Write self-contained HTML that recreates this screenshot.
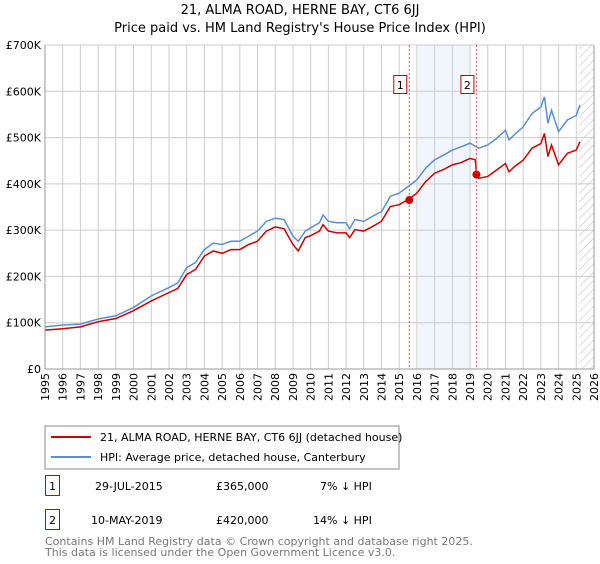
<!DOCTYPE html>
<html><head><meta charset="utf-8">
<style>
body{margin:0;background:#fff;font-family:"DejaVu Sans","Liberation Sans",sans-serif;}
svg text{font-family:"DejaVu Sans","Liberation Sans",sans-serif;}
</style></head>
<body>
<svg id="c" width="600" height="560" xmlns="http://www.w3.org/2000/svg">
<defs><pattern id="hatch" width="6" height="6" patternUnits="userSpaceOnUse" patternTransform="rotate(45)"><line x1="0" y1="0" x2="0" y2="6" stroke="#bbb" stroke-width="1"/></pattern></defs>
<text x="300" y="14" text-anchor="middle" font-size="13" fill="#000">21, ALMA ROAD, HERNE BAY, CT6 6JJ</text>
<text x="300" y="32" text-anchor="middle" font-size="13" fill="#000">Price paid vs. HM Land Registry's House Price Index (HPI)</text>
<g id="grid"></g>
<g id="marks"></g>
<g id="axes"></g>
<rect x="45" y="426" width="354" height="43" fill="#fff" stroke="#888"/>
<line x1="51" y1="437" x2="91" y2="437" stroke="#cc0000" stroke-width="2"/>
<text x="100" y="441" font-size="11">21, ALMA ROAD, HERNE BAY, CT6 6JJ (detached house)</text>
<line x1="51" y1="457" x2="91" y2="457" stroke="#5b8fd4" stroke-width="2"/>
<text x="100" y="461" font-size="11">HPI: Average price, detached house, Canterbury</text>
<g>
<rect x="45.5" y="475.5" width="14" height="20" fill="#fff" stroke="#cc0000"/><text x="52.5" y="490" font-size="11" text-anchor="middle">1</text>
<text x="95" y="490" font-size="11">29-JUL-2015</text><text x="216" y="490" font-size="11">£365,000</text><text x="320" y="490" font-size="11">7% ↓ HPI</text></g>
<g>
<rect x="45.5" y="509.5" width="14" height="20" fill="#fff" stroke="#cc0000"/><text x="52.5" y="524" font-size="11" text-anchor="middle">2</text>
<text x="91" y="524" font-size="11">10-MAY-2019</text><text x="216" y="524" font-size="11">£420,000</text><text x="313" y="524" font-size="11">14% ↓ HPI</text></g>
<text x="45" y="545" font-size="11" fill="#777">Contains HM Land Registry data © Crown copyright and database right 2025.</text>
<text x="45" y="556" font-size="11" fill="#777">This data is licensed under the Open Government Licence v3.0.</text>
</svg>
<script>
const hpiYears=[1995,1996,1997,1998,1999,2000,2001,2002,2002.5,2003,2003.5,2004,2004.5,2005,2005.5,2006,2006.5,2007,2007.5,2008,2008.5,2009,2009.3,2009.7,2010,2010.5,2010.7,2011,2011.5,2012,2012.2,2012.5,2013,2013.5,2014,2014.5,2015,2015.5,2016,2016.5,2017,2017.5,2018,2018.5,2019,2019.5,2020,2020.5,2021,2021.2,2021.5,2022,2022.5,2023,2023.2,2023.4,2023.6,2024,2024.5,2025,2025.2];
const hpiValues=[91,95,97,108,115,133,158,176,186,219,230,258,272,269,276,276,287,298,319,326,323,287,276,298,305,316,333,319,316,316,303,323,319,330,340,373,380,394,409,434,452,462,473,480,488,477,484,498,516,495,506,523,552,566,588,531,559,513,538,548,570];
const propYears=[1995,1996,1997,1998,1999,2000,2001,2002,2002.5,2003,2003.5,2004,2004.5,2005,2005.5,2006,2006.5,2007,2007.5,2008,2008.5,2009,2009.3,2009.7,2010,2010.5,2010.7,2011,2011.5,2012,2012.2,2012.5,2013,2013.5,2014,2014.5,2015,2015.5,2016,2016.5,2017,2017.5,2018,2018.5,2019,2019.3,2019.36,2019.5,2020,2020.5,2021,2021.2,2021.5,2022,2022.5,2023,2023.2,2023.4,2023.6,2024,2024.5,2025,2025.2];
const propValues=[84,87,91,102,109,126,147,165,174,204,215,244,255,250,258,258,269,276,298,307,303,269,255,284,288,298,312,298,294,294,284,301,298,308,319,351,355,366,380,405,423,431,441,446,455,452,423,412,416,430,444,426,437,451,477,487,509,459,484,441,466,473,491];
const saleYears=[2015.57,2019.36];
const saleValues=[365,420];
const saleLabels=["1","2"];
const yTicks=[0,100,200,300,400,500,600,700];
const yTickLabels=["£0","£100K","£200K","£300K","£400K","£500K","£600K","£700K"];
const xTicks=[1995,1996,1997,1998,1999,2000,2001,2002,2003,2004,2005,2006,2007,2008,2009,2010,2011,2012,2013,2014,2015,2016,2017,2018,2019,2020,2021,2022,2023,2024,2025,2026];
const L=45,R=594,T=45,B=369;
const xs=y=>L+(y-1995)/(2026-1995)*(R-L);
const ys=v=>B-v/700*(B-T);
const NS="http://www.w3.org/2000/svg";
function mk(p,tag,a){const e=document.createElementNS(NS,tag);for(const k in a)e.setAttribute(k,a[k]);p.appendChild(e);return e;}
const grid=document.getElementById('grid'),marks=document.getElementById('marks'),axes=document.getElementById('axes');
const shade=mk(grid,'rect',{x:xs(2016.04),y:T,width:xs(2019.07)-xs(2016.04),height:B-T,fill:'#eef3fc',opacity:0.8});


const hat=mk(grid,'rect',{x:xs(2025.15),y:T,width:R-xs(2025.15),height:B-T,fill:'url(#hatch)'});


yTicks.forEach((v,i)=>{
 const g=mk(grid,'line',{x1:L,x2:R,y1:ys(v),y2:ys(v),stroke:'#ccc','stroke-width':1});
 
 
 const t=mk(axes,'text',{x:L-4,y:ys(v)+4,'text-anchor':'end','font-size':11});
 t.textContent=yTickLabels[i];
 
 
});
xTicks.forEach(y=>{
 const g=mk(grid,'line',{x1:xs(y),x2:xs(y),y1:T,y2:B,stroke:'#ccc','stroke-width':1});
 
 
 const t=mk(axes,'text',{x:0,y:0,'text-anchor':'end','font-size':11,transform:`translate(${xs(y)+4},${B+4}) rotate(-90)`});
 t.textContent=y;
 
 
});
const ax=mk(axes,'path',{d:`M${L},${T}V${B}H${R}V${T}`,fill:'none',stroke:'#999'});


const hp=mk(marks,'polyline',{points:hpiYears.map((y,i)=>xs(y)+','+ys(hpiValues[i])).join(' '),fill:'none',stroke:'#5b8fd4','stroke-width':1.5});


const pp=mk(marks,'polyline',{points:propYears.map((y,i)=>xs(y)+','+ys(propValues[i])).join(' '),fill:'none',stroke:'#cc0000','stroke-width':1.5});


saleYears.forEach((y,i)=>{
 const l=mk(marks,'line',{x1:xs(y),x2:xs(y),y1:T,y2:B,stroke:'#ee5555','stroke-dasharray':'2,2','stroke-width':1});
 
 
 const c=mk(marks,'circle',{cx:xs(y),cy:ys(saleValues[i]),r:4,fill:'#cc0000'});
 
 
 const b=mk(marks,'rect',{x:xs(y)-15.5,y:75.5,width:13,height:18,fill:'#fff',stroke:'#cc0000'});
 
 
 const t=mk(marks,'text',{x:xs(y)-9,y:89,'text-anchor':'middle','font-size':11});
 t.textContent=saleLabels[i];
 
 
});
</script>
</body></html>
